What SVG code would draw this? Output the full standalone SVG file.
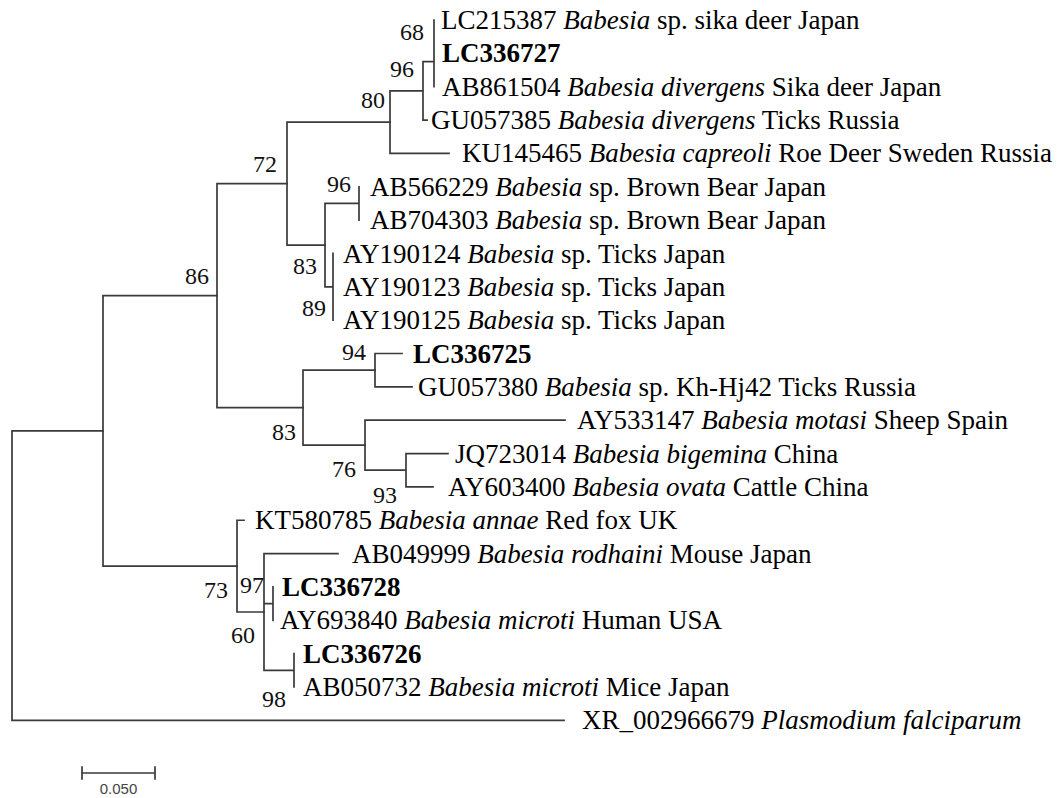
<svg xmlns="http://www.w3.org/2000/svg" width="1059" height="798" viewBox="0 0 1059 798">
<style>
.t{font-family:"Liberation Serif","Times New Roman",serif;font-size:27px;fill:#000}
.b{font-weight:bold}
.i{font-style:italic}
.bs{font-family:"Liberation Serif","Times New Roman",serif;font-size:24px;fill:#111}
.br{fill:none;stroke:#3a3a3a;stroke-width:1.7;stroke-linecap:square}
.sc{font-family:"Liberation Sans",Arial,sans-serif;font-size:15px;fill:#444}
</style>
<rect width="1059" height="798" fill="#fff"/>
<g id="connectors" class="br">
<path d="M434 20V86.7M423 61.7H434M423 61.7V120.05H427M390 90.9H423M390 90.9V153.4H449"/>
<path d="M359 186.75V220.1M333 253.45V320.15M325 203.4H359M325 203.4V286.8H333"/>
<path d="M287 122.1H390M287 122.1V245.1H325"/>
<path d="M375 353.5H402M375 353.5V386.85H412M406 453.55H448M406 453.55V486.9H433M365 420.2H565M365 420.2V470.2H406"/>
<path d="M303 370.2H375M303 370.2V445.2H365"/>
<path d="M217 183.6H287M217 183.6V407.7H303"/>
<path d="M273 586.95V620.3M294 653.65V687M264 553.6H338M264 553.6V670.3H294M264 603.6H273"/>
<path d="M237 520.25H244M237 520.25V612H264"/>
<path d="M103 295.7H217M103 295.7V566.1H237"/>
<path d="M12 430.9H103M12 430.9V720.35H564"/>
</g>
<g id="LC215387"><text class="t" x="441" y="29">LC215387 <tspan class="i">Babesia</tspan> sp. sika deer Japan</text></g>
<g id="LC336727"><text class="t b" x="442" y="62.4">LC336727</text></g>
<g id="AB861504"><text class="t" x="442" y="95.7">AB861504 <tspan class="i">Babesia divergens</tspan> Sika deer Japan</text></g>
<g id="GU057385"><text class="t" x="431" y="129">GU057385 <tspan class="i">Babesia divergens</tspan> Ticks Russia</text></g>
<g id="KU145465"><text class="t" x="462" y="162.4">KU145465 <tspan class="i">Babesia capreoli</tspan> Roe Deer Sweden Russia</text></g>
<g id="AB566229"><text class="t" x="370" y="195.8">AB566229 <tspan class="i">Babesia</tspan> sp. Brown Bear Japan</text></g>
<g id="AB704303"><text class="t" x="370" y="229.1">AB704303 <tspan class="i">Babesia</tspan> sp. Brown Bear Japan</text></g>
<g id="AY190124"><text class="t" x="343" y="262.5">AY190124 <tspan class="i">Babesia</tspan> sp. Ticks Japan</text></g>
<g id="AY190123"><text class="t" x="343" y="295.8">AY190123 <tspan class="i">Babesia</tspan> sp. Ticks Japan</text></g>
<g id="AY190125"><text class="t" x="343" y="329.2">AY190125 <tspan class="i">Babesia</tspan> sp. Ticks Japan</text></g>
<g id="LC336725"><text class="t b" x="413" y="362.5">LC336725</text></g>
<g id="GU057380"><text class="t" x="418" y="395.9">GU057380 <tspan class="i">Babesia</tspan> sp. Kh-Hj42 Ticks Russia</text></g>
<g id="AY533147"><text class="t" x="577" y="429.2">AY533147 <tspan class="i">Babesia motasi</tspan> Sheep Spain</text></g>
<g id="JQ723014"><text class="t" x="455" y="462.6">JQ723014 <tspan class="i">Babesia bigemina</tspan> China</text></g>
<g id="AY603400"><text class="t" x="448" y="495.9">AY603400 <tspan class="i">Babesia ovata</tspan> Cattle China</text></g>
<g id="KT580785"><text class="t" x="255" y="529.3">KT580785 <tspan class="i">Babesia annae</tspan> Red fox UK</text></g>
<g id="AB049999"><text class="t" x="352" y="562.6">AB049999 <tspan class="i">Babesia rodhaini</tspan> Mouse Japan</text></g>
<g id="LC336728"><text class="t b" x="282" y="596">LC336728</text></g>
<g id="AY693840"><text class="t" x="280" y="629.3">AY693840 <tspan class="i">Babesia microti</tspan> Human USA</text></g>
<g id="LC336726"><text class="t b" x="303" y="662.7">LC336726</text></g>
<g id="AB050732"><text class="t" x="303" y="696">AB050732 <tspan class="i">Babesia microti</tspan> Mice Japan</text></g>
<g id="XR_002966679"><text class="t" x="582" y="729.4">XR_002966679 <tspan class="i">Plasmodium falciparum</tspan></text></g>
<g id="bootstrap">
<text class="bs" x="400" y="40">68</text>
<text class="bs" x="390" y="77">96</text>
<text class="bs" x="361" y="108">80</text>
<text class="bs" x="253" y="172">72</text>
<text class="bs" x="185" y="284">86</text>
<text class="bs" x="327" y="192">96</text>
<text class="bs" x="293" y="274">83</text>
<text class="bs" x="302" y="316">89</text>
<text class="bs" x="342" y="360">94</text>
<text class="bs" x="272" y="440">83</text>
<text class="bs" x="332" y="477">76</text>
<text class="bs" x="373" y="503">93</text>
<text class="bs" x="204" y="598">73</text>
<text class="bs" x="240" y="593">97</text>
<text class="bs" x="231" y="643">60</text>
<text class="bs" x="262" y="707">98</text>
</g>
<g id="scale">
<path class="br" d="M82 773H155M82 767V779M155 767V779"/>
<text class="sc" x="118.5" y="794" text-anchor="middle">0.050</text>
</g>
</svg>
